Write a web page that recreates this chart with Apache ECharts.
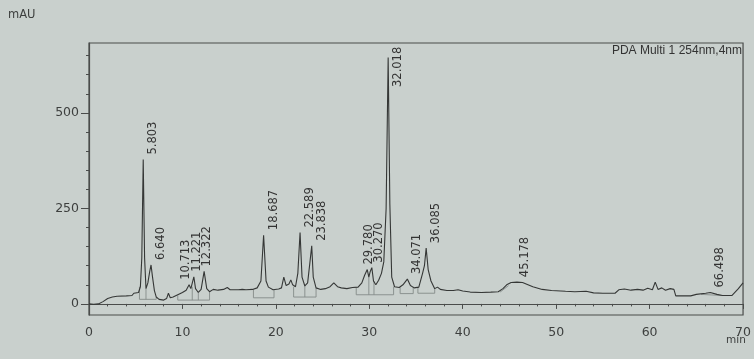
<!DOCTYPE html>
<html>
<head>
<meta charset="utf-8">
<script src="https://cdn.jsdelivr.net/npm/echarts@6/dist/echarts.min.js"></script>
<style>html,body{margin:0;padding:0;background:#c9d0cd;}#c{width:754px;height:359px;}</style>
</head>
<body>
<div id="c"></div>
<script>
// Chromatogram trace (time in min, signal in mAU)
const traceTime = [0,0.5,1.0,1.5,2.0,2.5,3.0,4.0,4.6,4.8,5.0,5.3,5.5,5.65,5.803,5.95,6.1,6.3,6.5,6.64,6.8,7.0,7.2,7.5,8.0,8.3,8.5,8.7,9.0,9.5,10.0,10.4,10.713,10.9,11.05,11.221,11.4,11.7,12.0,12.322,12.6,12.9,13.3,13.8,14.4,14.8,15.1,16.0,16.4,16.6,16.8,17.5,18.0,18.4,18.687,18.95,19.2,19.7,20.3,20.6,20.85,21.1,21.4,21.6,21.8,22.1,22.35,22.589,22.8,23.1,23.4,23.65,23.838,24.0,24.3,24.8,25.3,25.8,26.2,26.6,27.0,27.6,28.2,28.8,29.2,29.5,29.78,29.95,30.1,30.27,30.45,30.7,31.0,31.3,31.55,31.8,32.018,32.2,32.4,32.7,33.2,33.6,34.071,34.4,34.8,35.3,35.7,35.9,36.085,36.3,36.6,37.0,37.3,37.6,38.3,39.0,39.5,40.0,40.8,42.0,43.0,43.8,44.3,44.7,45.178,45.8,46.4,47.5,48.5,49.5,51.0,52.0,53.2,54.0,55.0,56.3,56.7,57.3,58.0,58.7,59.3,59.8,60.3,60.6,60.9,61.3,61.7,62.2,62.6,62.8,63.5,64.4,65.0,66.0,66.498,67.2,67.8,68.8,69.5,70.0];
const traceSignal = [0,-1,0,6,14,18,20,21,22,28,24,30,45,120,378,120,40,55,85,102,70,35,18,12,10,14,28,16,18,24,30,36,50,40,45,71,40,30,38,85,40,32,38,36,38,43,37,37,38,42,37,38,42,60,180,60,44,37,39,42,70,48,52,63,50,45,80,187,70,47,55,110,152,70,42,38,40,45,55,45,42,40,43,44,55,75,90,70,85,95,60,50,62,80,110,250,645,260,70,45,43,50,65,48,42,44,80,100,146,90,60,40,44,38,35,35,37,34,31,30,31,32,40,50,56,57,56,45,38,35,33,32,33,29,28,28,37,39,36,38,36,41,37,57,38,42,36,40,38,21,21,21,25,28,30,25,22,22,40,55];

// Integration baselines (null = gap between segments)
const baseTime = [5.4,5.4,7.2,7.2,null,6.1,6.1,null,9.5,9.5,12.9,12.9,null,11.05,11.05,null,11.7,11.7,null,17.6,17.6,19.8,19.8,null,21.9,21.9,24.3,24.3,null,23.1,23.1,null,28.6,28.6,32.6,32.6,null,29.95,29.95,null,30.5,30.5,null,33.3,33.3,34.7,34.7,null,35.2,35.2,37.0,37.0,null,44.0,44.9,null,65.5,67.8];
const baseSignal = [45,12,12,18,null,40,12,null,22,10,10,32,null,45,10,null,30,10,null,38,16,16,38,null,45,18,18,42,null,47,18,null,43,24,24,45,null,70,24,null,60,24,null,43,27,27,45,null,44,28,28,40,null,31,48,null,25,22];

// Peak annotations
const peakLabels = ['5.803','6.640','10.713','11.221','12.322','18.687','22.589','23.838','29.780','30.270','32.018','34.071','36.085','45.178','66.498'];
const peakTimes = [5.803,6.640,10.713,11.221,12.322,18.687,22.589,23.838,29.780,30.270,32.018,34.071,36.085,45.178,66.498];
const peakHeights = [378,102,50,71,85,180,187,152,90,95,645,65,146,57,30];

// Axis ticks
const yLabelValues = [0,250,500];
const yMinorTickValues = [50,100,150,200,300,350,400,450,550,600,650];

const labelShift = {'10.713':-3,'11.221':3,'12.322':3,'29.780':2,'30.270':7,'32.018':10,'45.178':14};

const chart = echarts.init(document.getElementById('c'), null, {renderer:'canvas'});
const txt = '#3d3f3e';
const line = '#4a4c4b';
chart.setOption({
  backgroundColor: '#c9d0cd',
  animation: false,
  grid: {left: 89, right: 10, top: 43, bottom: 44, show: true, borderColor: line, borderWidth: 1.2, backgroundColor: 'transparent'},
  xAxis: {
    type: 'value', min: 0, max: 70, interval: 10,
    axisLine: {lineStyle: {color: line, width: 1.2}},
    axisTick: {show: true, length: 5, lineStyle: {color: line}},
    minorTick: {show: true, splitNumber: 5, length: 2.5, lineStyle: {color: line}},
    axisLabel: {color: txt, fontFamily: 'DejaVu Sans', fontSize: 12.5, margin: 11},
    splitLine: {show: false}
  },
  yAxis: [{
    type: 'value', min: -29, max: 683,
    axisLine: {show: true, lineStyle: {color: line, width: 1.2}},
    axisTick: {show: true, length: 8, customValues: yLabelValues, lineStyle: {color: line}},
    axisLabel: {color: txt, fontFamily: 'DejaVu Sans', fontSize: 12.5, margin: 10, customValues: yLabelValues},
    splitLine: {show: false}
  }, {
    type: 'value', min: -29, max: 683, position: 'left',
    axisLine: {show: false},
    axisTick: {show: true, length: 3, customValues: yMinorTickValues, lineStyle: {color: line}},
    axisLabel: {show: false},
    splitLine: {show: false}
  }],
  graphic: [
    {type: 'text', left: 8, top: 9, style: {text: 'mAU', fill: txt, font: '11.5px "DejaVu Sans"'}},
    {type: 'text', left: 726, top: 335, style: {text: 'min', fill: txt, font: '10.5px "DejaVu Sans"'}},
    {type: 'text', right: 12, top: 45, style: {text: 'PDA Multi 1 254nm,4nm', fill: '#333', font: '12px "Liberation Sans"'}}
  ],
  series: [
    {
      type: 'line', data: traceTime.map((t, i) => [t, traceSignal[i]]),
      symbol: 'none', lineStyle: {color: '#353736', width: 1.1}, z: 3
    },
    {
      type: 'line', data: baseTime.map((t, i) => t === null ? ['-', '-'] : [t, baseSignal[i]]),
      symbol: 'none', connectNulls: false, lineStyle: {color: '#858b89', width: 0.9}, z: 2
    },
    {
      type: 'custom', clip: false, z: 4,
      data: peakTimes.map((t, i) => [t, peakHeights[i]]),
      encode: {x: 0, y: 1},
      renderItem: function (params, api) {
        const p = api.coord([api.value(0), api.value(1)]);
        const name = peakLabels[params.dataIndex];
        const shift = (name in labelShift) ? labelShift[name] : 10;
        return {
          type: 'text',
          x: p[0] + shift,
          y: Math.max(p[1] - 5, 87),
          rotation: Math.PI / 2,
          style: {text: name, fill: '#333', font: '11.5px "DejaVu Sans"', align: 'left', verticalAlign: 'middle'}
        };
      }
    }
  ]
});
</script>
</body>
</html>
